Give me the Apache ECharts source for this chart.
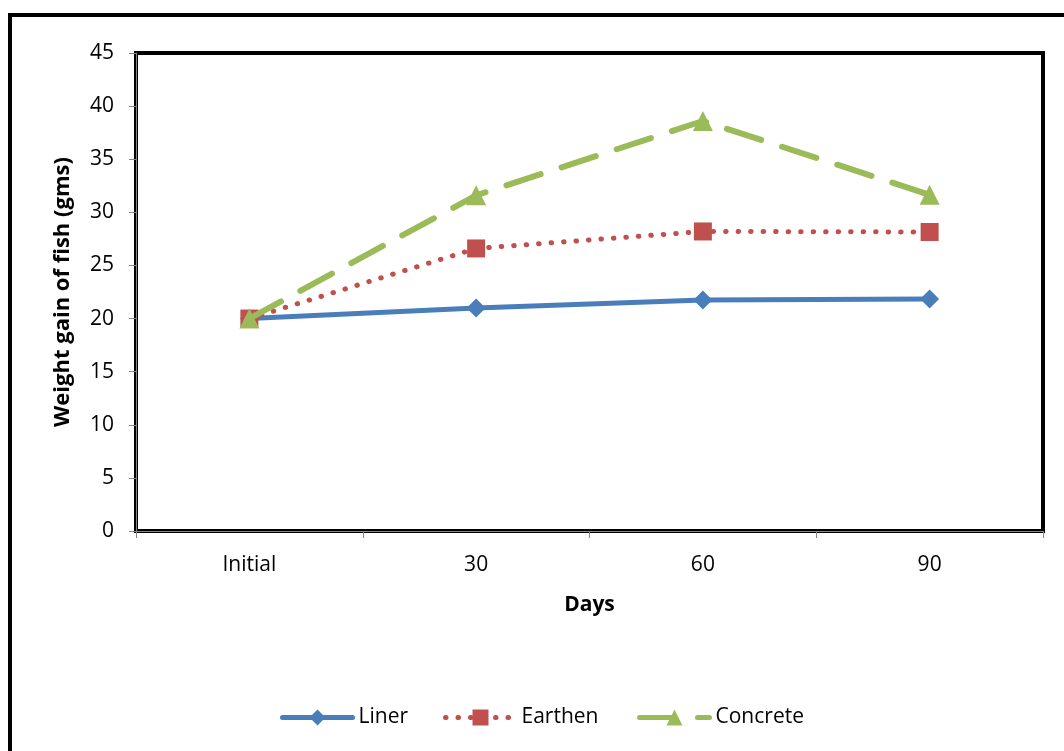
<!DOCTYPE html>
<html>
<head>
<meta charset="utf-8">
<script src="https://cdn.jsdelivr.net/npm/echarts@6/dist/echarts.min.js"></script>
<style>
html,body{margin:0;padding:0;background:#fff;}
#c{width:1064px;height:751px;}
</style>
</head>
<body>
<div id="c"></div>
<script>
const categories = ['Initial', '30', '60', '90'];
const liner = [20, 21.0, 21.75, 21.85];
const earthen = [20, 26.6, 28.2, 28.15];
const concrete = [20, 31.6, 38.6, 31.65];
const yTicks = [0, 5, 10, 15, 20, 25, 30, 35, 40, 45];

const FONT = '"Open Sans", sans-serif';
const chart = echarts.init(document.getElementById('c'), null, {renderer: 'canvas'});

function legendFor(name, left) {
  return {
    data: [name],
    left: left,
    top: 707,
    itemWidth: 70,
    itemHeight: 20,
    itemGap: 0,
    lineStyle: {width: 5, cap: 'round'},
    textStyle: {fontFamily: FONT, fontSize: 21, color: '#000', padding: [0, 0, 0, 1]},
    padding: 0
  };
}

chart.setOption({
  animation: false,
  backgroundColor: '#fff',
  graphic: [{
    type: 'rect',
    shape: {x: 10, y: 15, width: 1200, height: 900},
    style: {fill: 'none', stroke: '#000', lineWidth: 4},
    silent: true
  }],
  grid: {
    left: 136, top: 53, right: 21, bottom: 220,
    show: true, borderColor: '#000', borderWidth: 4, backgroundColor: 'transparent'
  },
  legend: [legendFor('Liner', 280), legendFor('Earthen', 443), legendFor('Concrete', 637)],
  xAxis: {
    type: 'category',
    data: categories,
    boundaryGap: true,
    name: 'Days',
    nameLocation: 'middle',
    nameGap: 64,
    nameTextStyle: {fontFamily: FONT, fontSize: 21, fontWeight: 'bold', color: '#000'},
    axisLine: {show: true, lineStyle: {color: '#868686', width: 1}},
    axisTick: {show: true, length: 7, lineStyle: {color: '#868686'}, alignWithLabel: false},
    axisLabel: {fontFamily: FONT, fontSize: 21, color: '#000', margin: 24},
    splitLine: {show: false}
  },
  yAxis: {
    type: 'value',
    min: 0, max: 45, interval: 5,
    name: 'Weight gain of fish (gms)',
    nameLocation: 'middle',
    nameGap: 62,
    nameRotate: 90,
    nameTextStyle: {fontFamily: FONT, fontSize: 22, fontWeight: 'bold', color: '#000'},
    axisLine: {show: true, lineStyle: {color: '#868686', width: 1}},
    axisTick: {show: true, length: 7, lineStyle: {color: '#868686'}},
    axisLabel: {fontFamily: FONT, fontSize: 21, color: '#000', margin: 22,
      formatter: function (v) { return yTicks.indexOf(v) >= 0 ? String(v) : ''; }},
    splitLine: {show: false}
  },
  series: [
    {
      name: 'Liner', type: 'line', data: liner,
      symbol: 'diamond', symbolSize: 19,
      itemStyle: {color: '#4A7EBB'},
      lineStyle: {color: '#4A7EBB', width: 5, cap: 'round'},
      z: 2
    },
    {
      name: 'Earthen', type: 'line', data: earthen,
      symbol: 'rect', symbolSize: 18,
      itemStyle: {color: '#C0504D'},
      lineStyle: {color: '#C0504D', width: 5, type: [0.5, 12], cap: 'round'},
      z: 3
    },
    {
      name: 'Concrete', type: 'line', data: concrete,
      symbol: 'triangle', symbolSize: 20,
      itemStyle: {color: '#9BBB59'},
      lineStyle: {color: '#9BBB59', width: 6, type: [36, 22], cap: 'round'},
      z: 4
    }
  ]
});
</script>
</body>
</html>
